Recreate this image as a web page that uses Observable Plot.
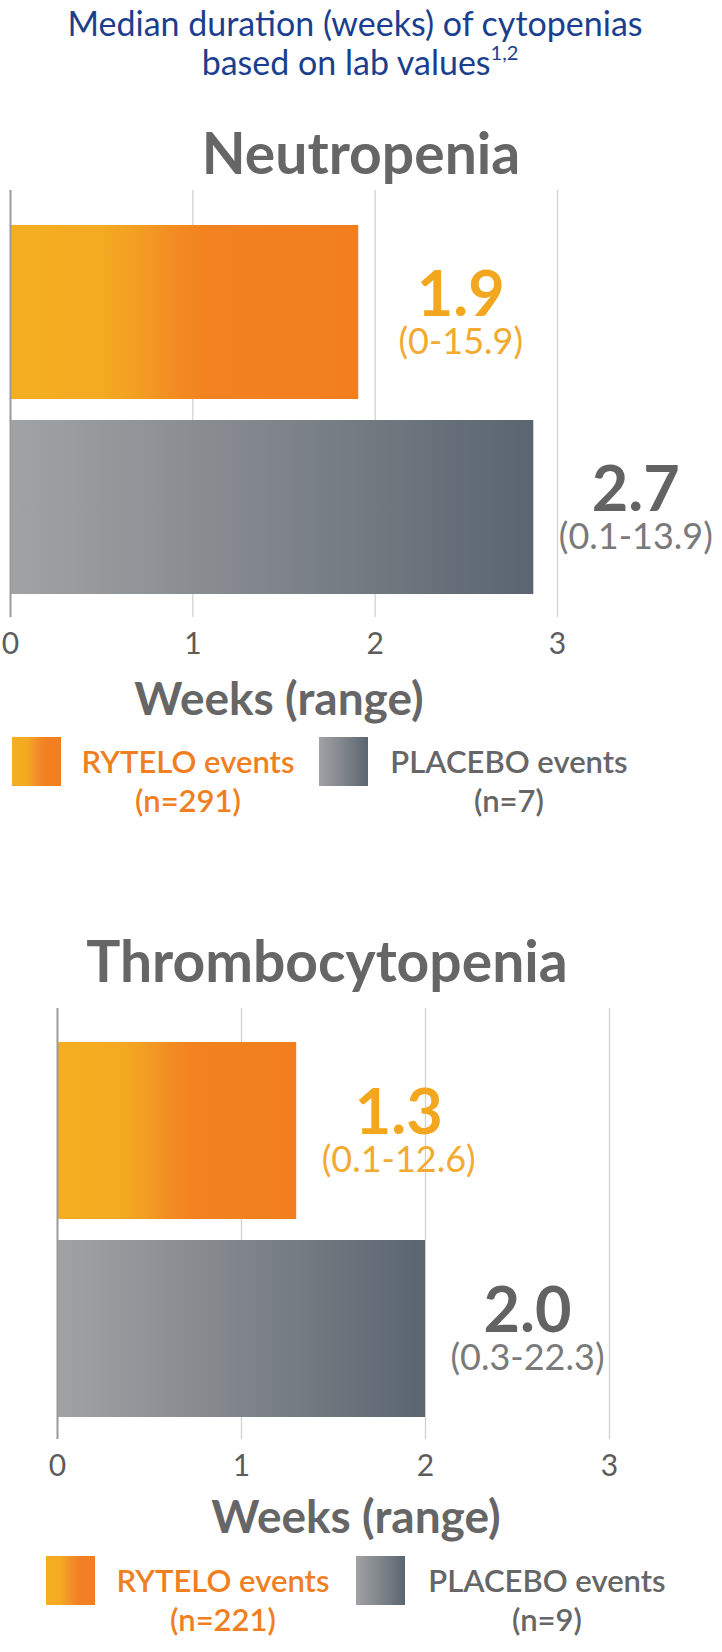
<!DOCTYPE html>
<html>
<head>
<meta charset="utf-8">
<script src="https://cdn.jsdelivr.net/npm/d3@7"></script>
<script src="https://cdn.jsdelivr.net/npm/@observablehq/plot@0.6"></script>
<style>
html, body { margin: 0; padding: 0; background: #fff; }
#page { position: relative; width: 722px; height: 1652px; overflow: hidden; font-family: Lato, sans-serif; }
#page > svg { position: absolute; left: 0; }
</style>
</head>
<body>
<div id="page"></div>
<script>
// ---- data ----
const groups = ["RYTELO", "PLACEBO"];
const legendNames = ["RYTELO events", "PLACEBO events"];
const xTicks = [0, 1, 2, 3];

const neutropeniaWeeks = [1.91, 2.87];          // bar lengths as drawn
const neutropeniaMedians = ["1.9", "2.7"];
const neutropeniaRanges = ["(0-15.9)", "(0.1-13.9)"];
const neutropeniaEvents = ["(n=291)", "(n=7)"];

const thrombocytopeniaWeeks = [1.3, 2.0];
const thrombocytopeniaMedians = ["1.3", "2.0"];
const thrombocytopeniaRanges = ["(0.1-12.6)", "(0.3-22.3)"];
const thrombocytopeniaEvents = ["(n=221)", "(n=9)"];

// ---- styles ----
const barFill = {RYTELO: "url(#gradOrange)", PLACEBO: "url(#gradGray)"};
const valueFill = {RYTELO: "#f2a71f", PLACEBO: "#636363"};
const rangeFill = {RYTELO: "#f2aa30", PLACEBO: "#7a7a7a"};
const legendFill = {RYTELO: "#f07f22", PLACEBO: "#666666"};
const FONT = "Lato, sans-serif";

const page = document.getElementById("page");

function chart(weeks, medians, ranges, top, height, marginLeft, marginRight) {
  const rows = groups.map((g, i) => ({group: g, weeks: weeks[i], label: medians[i] + "\n" + ranges[i]}));
  const svg = Plot.plot({
    width: 722,
    height,
    marginTop: 20,
    marginBottom: 53,
    marginLeft,
    marginRight,
    style: {fontFamily: FONT, background: "transparent", overflow: "visible"},
    x: {domain: [0, 3], label: null},
    y: {domain: groups, insetTop: 34, insetBottom: 22, paddingInner: 0.107, paddingOuter: 0, axis: null, label: null},
    color: {type: "identity"},
    marks: [
      Plot.ruleX(xTicks.filter((t) => t > 0), {stroke: "#d3d3d3", strokeWidth: 1.3}),
      Plot.barX(rows, {x: "weeks", y: "group", fill: (d) => barFill[d.group], insetTop: 0, insetBottom: 0}),
      Plot.ruleX(xTicks.filter((t) => t === 0), {stroke: "#9a9a9a", strokeWidth: 2}),
      Plot.axisX(xTicks, {tickSize: 0, tickPadding: 15, tickFormat: (d) => String(d), fontSize: 30,
        color: "#5c5c5c", label: null, fontFamily: FONT}),
      Plot.text(rows, {x: "weeks", y: "group", text: "label", dx: 102, lineAnchor: "bottom",
        fontSize: 63, fontWeight: 700, fontFamily: FONT, fill: (d) => valueFill[d.group], className: "vlabel"})
    ]
  });
  // style the second line (range) of each value label
  d3.select(svg).selectAll(".vlabel text").each(function (_, i) {
    const spans = d3.select(this).selectAll("tspan");
    spans.filter((_, j) => j === 0).attr("y", 3).attr("dy", null);
    spans.filter((_, j) => j === 1).attr("y", 41).attr("dy", null)
      .attr("font-size", 36).attr("font-weight", 400).attr("fill", rangeFill[rows[i].group]);
  });
  svg.style.top = top + "px";
  page.appendChild(svg);
}

chart(neutropeniaWeeks, neutropeniaMedians, neutropeniaRanges, 170, 500, 10, 165);
chart(thrombocytopeniaWeeks, thrombocytopeniaMedians, thrombocytopeniaRanges, 988, 504, 57, 113);

// ---- overlay: titles, axis titles, legends ----
const ov = d3.create("svg").attr("width", 722).attr("height", 1652)
  .style("top", "0px").style("pointer-events", "none").style("font-family", FONT);
const defs = ov.append("defs");
const go = defs.append("linearGradient").attr("id", "gradOrange").attr("x1", 0).attr("x2", 1).attr("y1", 0).attr("y2", 0);
[[0, "#f5ae21"], [0.26, "#f4aa21"], [0.36, "#f39f23"], [0.48, "#f28b22"], [0.56, "#f38220"], [1, "#f27e1f"]]
  .forEach(([o, c]) => go.append("stop").attr("offset", o).attr("stop-color", c));
const gg = defs.append("linearGradient").attr("id", "gradGray").attr("x1", 0).attr("x2", 1).attr("y1", 0).attr("y2", 0);
[[0, "#a1a2a4"], [0.5, "#80858b"], [1, "#5a6570"]]
  .forEach(([o, c]) => gg.append("stop").attr("offset", o).attr("stop-color", c));
const gso = defs.append("linearGradient").attr("id", "gradOrangeSwatch").attr("x1", 0).attr("x2", 1).attr("y1", 0).attr("y2", 0);
[[0, "#f5ae21"], [0.3, "#f4aa21"], [0.5, "#f2902a"], [0.65, "#f28123"], [1, "#f27e1f"]]
  .forEach(([o, c]) => gso.append("stop").attr("offset", o).attr("stop-color", c));

function txt(str, x, y, size, weight, fill) {
  return ov.append("text").attr("x", x).attr("y", y).attr("text-anchor", "middle")
    .attr("font-size", size).attr("font-weight", weight).attr("fill", fill).text(str);
}

txt("Median duration (weeks) of cytopenias", 355, 36, 34, 400, "#1b3f8e");
const t2 = txt("based on lab values", 360, 75, 34, 400, "#1b3f8e");
t2.append("tspan").attr("font-size", 20).attr("dy", -15).text("1,2");

function section(title, titleX, titleY, axisX, axisY, sw1, sw2, tx1, tx2, ty, events) {
  txt(title, titleX, titleY, 57, 700, "#666666");
  txt("Weeks (range)", axisX, axisY, 46, 700, "#666666");
  ov.append("rect").attr("x", sw1).attr("y", ty - 36).attr("width", 49).attr("height", 49).attr("fill", "url(#gradOrangeSwatch)");
  ov.append("rect").attr("x", sw2).attr("y", ty - 36).attr("width", 49).attr("height", 49).attr("fill", "url(#gradGray)");
  txt(legendNames[0], tx1, ty, 31, 600, legendFill.RYTELO);
  txt(events[0], tx1, ty + 39, 31, 600, legendFill.RYTELO);
  txt(legendNames[1], tx2, ty, 31, 600, legendFill.PLACEBO);
  txt(events[1], tx2, ty + 39, 31, 600, legendFill.PLACEBO);
}

section("Neutropenia", 361, 174, 279, 715, 12, 319, 188, 509, 773, neutropeniaEvents);
section("Thrombocytopenia", 327, 982, 356, 1533, 46, 356, 223, 547, 1592, thrombocytopeniaEvents);

page.insertBefore(ov.node(), page.firstChild);
</script>
</body>
</html>
